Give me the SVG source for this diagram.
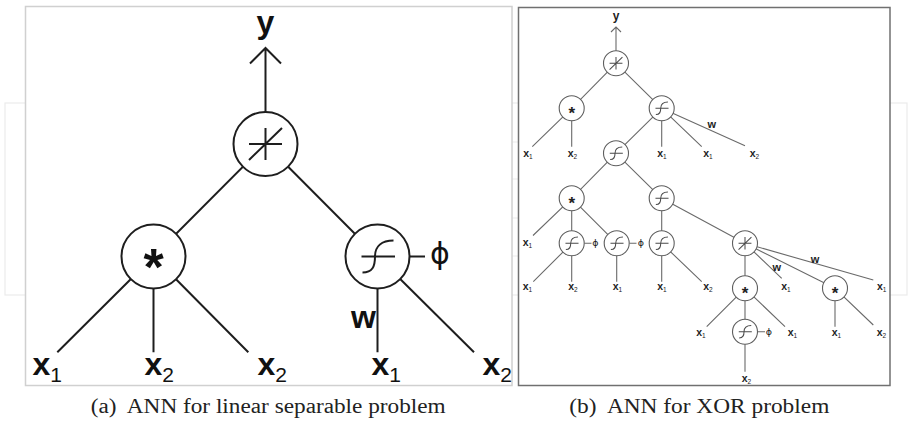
<svg xmlns="http://www.w3.org/2000/svg" xmlns:xlink="http://www.w3.org/1999/xlink" width="908" height="424" viewBox="0 0 908 424">
<defs>
<style>
.bgl{fill:none;stroke:#ebebeb;stroke-width:1.2}
.fa{fill:#fff;stroke:#d0d0d0;stroke-width:1.5}
.fb{fill:#fff;stroke:#707070;stroke-width:1.5}
.ea{stroke:#1e1e1e;stroke-width:2;fill:none}
.na{fill:#fff;stroke:#1e1e1e;stroke-width:2}
.ya{fill:none;stroke:#1e1e1e;stroke-width:2}
.eb{stroke:#6a6a6a;stroke-width:1.1;fill:none}
.nb{fill:#fff;stroke:#5e5e5e;stroke-width:1.1}
.yb{fill:none;stroke:#4a4a4a;stroke-width:2.6}
.la{font-family:"Liberation Sans",Arial,sans-serif;font-weight:bold;font-size:32px;fill:#111}
.sa{font-weight:normal;font-size:21px}
.lb{font-family:"Liberation Sans",Arial,sans-serif;font-weight:bold;font-size:10.5px;fill:#222;text-anchor:middle}
.sb{font-weight:normal;font-size:6.5px}
.wb{font-family:"Liberation Sans",Arial,sans-serif;font-weight:bold;font-size:11px;fill:#222;text-anchor:middle}
.phia{font-family:"DejaVu Sans",sans-serif;font-size:30px;fill:#111;text-anchor:middle}
.phib{font-family:"DejaVu Sans",sans-serif;font-size:9.5px;fill:#222;text-anchor:middle}
.asta{font-family:"Liberation Sans",Arial,sans-serif;font-weight:bold;font-size:52px;fill:#111;text-anchor:middle}
.astb{font-family:"Liberation Sans",Arial,sans-serif;font-weight:bold;font-size:17px;fill:#222;text-anchor:middle}
.cap{font-family:"Liberation Serif","Times New Roman",serif;font-size:20px;fill:#222}
</style>
<path id="sum" d="M-16.5,0H16.5M0,-16V16M-16.5,16L16.5,-16"/>
<path id="sig" d="M-16,0H17.5M-15,16C-5,16 -2.5,10 -2.5,0C-2.5,-10 4,-16 16,-16"/>
</defs>

<g id="background">
<rect class="bgl" x="5" y="103" width="902" height="192"/>
<path class="bgl" d="M512,142H518M512,179H518M512,218H518M512,256H518"/>
</g>

<g id="frames">
<rect class="fa" x="25.5" y="6.5" width="486.5" height="379"/>
<rect class="fb" x="518.5" y="7.5" width="371.5" height="378"/>
</g>

<g id="connectors-a">
<path class="ea" d="M265.5,144V48M250,63.5L265.5,48L281,63.5"/>
<path class="ea" d="M265.5,144L153.5,256.5M265.5,144L377.5,256.5"/>
<path class="ea" d="M153.5,256.5L57.3,352.3M153.5,256.5V352.3M153.5,256.5L248.3,352.3"/>
<path class="ea" d="M377.5,256.5V352.3M377.5,256.5L474,352.3M409.5,256.5H425"/>
</g>

<g id="node-a-sum"><circle class="na" cx="265.5" cy="144" r="32"/><use xlink:href="#sum" x="265.5" y="144" class="ya"/></g>
<g id="node-a-mul"><circle class="na" cx="153.5" cy="256.5" r="32"/><text class="asta" x="153.5" y="285">*</text></g>
<g id="node-a-sig"><circle class="na" cx="377.5" cy="256.5" r="32"/><use xlink:href="#sig" x="377.5" y="256.5" class="ya"/></g>

<g id="labels-a">
<text class="la" x="265.5" y="33" text-anchor="middle">y</text>
<text class="la" x="376" y="328" text-anchor="end">w</text>
<text class="phia" x="440" y="264">ϕ</text>
<text class="la" x="32.5" y="375">x<tspan class="sa" dy="6.5">1</tspan></text>
<text class="la" x="144.5" y="375">x<tspan class="sa" dy="6.5">2</tspan></text>
<text class="la" x="257.5" y="375">x<tspan class="sa" dy="6.5">2</tspan></text>
<text class="la" x="371.5" y="375">x<tspan class="sa" dy="6.5">1</tspan></text>
<text class="la" x="482.5" y="375">x<tspan class="sa" dy="6.5">2</tspan></text>
</g>

<g id="connectors-b">
<path class="eb" d="M616,63.3V27M611,32L616,27L621,32"/>
<path class="eb" d="M616,63.3L571.7,108.3M616,63.3L661.7,108.3"/>
<path class="eb" d="M571.7,108.3L532.3,146.7M571.7,108.3V146.7"/>
<path class="eb" d="M661.7,108.3L616,153.3M661.7,108.3V146.7M661.7,108.3L701.7,146.7M661.7,108.3L745,145.7"/>
<path class="eb" d="M616,153.3L571.7,198.3M616,153.3L661.7,198.3"/>
<path class="eb" d="M571.7,198.3L533,235.5M571.7,198.3V243.3M571.7,198.3L616.7,243.3"/>
<path class="eb" d="M661.7,198.3V243.3M661.7,198.3L745,243.3"/>
<path class="eb" d="M571.7,243.3L533.3,281.7M571.7,243.3V281.7M584.2,243.3H591.5"/>
<path class="eb" d="M616.7,243.3V281.7M629.2,243.3H636.5"/>
<path class="eb" d="M661.7,243.3V281.7M661.7,243.3L701.7,281.7"/>
<path class="eb" d="M745,243.3V288.3M745,243.3L781.7,278.3M745,243.3L835,288.3M745,243.3L873.3,280"/>
<path class="eb" d="M745,288.3L706.7,326.7M745,288.3V331.7M745,288.3L785,326.7"/>
<path class="eb" d="M745,331.7V371.7M757.5,331.7H765"/>
<path class="eb" d="M835,288.3V326.7M835,288.3L873.3,325"/>
</g>

<g id="node-b-sum1"><circle class="nb" cx="616" cy="63.3" r="12.5"/><use xlink:href="#sum" transform="translate(616,63.3) scale(0.39)" class="yb"/></g>
<g id="node-b-mul1"><circle class="nb" cx="571.7" cy="108.3" r="12.5"/><text class="astb" x="571.7" y="118.6">*</text></g>
<g id="node-b-sig1"><circle class="nb" cx="661.7" cy="108.3" r="12.5"/><use xlink:href="#sig" transform="translate(661.7,108.3) scale(0.39)" class="yb"/></g>
<g id="node-b-sig2"><circle class="nb" cx="616" cy="153.3" r="12.5"/><use xlink:href="#sig" transform="translate(616,153.3) scale(0.39)" class="yb"/></g>
<g id="node-b-mul2"><circle class="nb" cx="571.7" cy="198.3" r="12.5"/><text class="astb" x="571.7" y="208.6">*</text></g>
<g id="node-b-sig3"><circle class="nb" cx="661.7" cy="198.3" r="12.5"/><use xlink:href="#sig" transform="translate(661.7,198.3) scale(0.39)" class="yb"/></g>
<g id="node-b-sig4"><circle class="nb" cx="571.7" cy="243.3" r="12.5"/><use xlink:href="#sig" transform="translate(571.7,243.3) scale(0.39)" class="yb"/></g>
<g id="node-b-sig5"><circle class="nb" cx="616.7" cy="243.3" r="12.5"/><use xlink:href="#sig" transform="translate(616.7,243.3) scale(0.39)" class="yb"/></g>
<g id="node-b-sig6"><circle class="nb" cx="661.7" cy="243.3" r="12.5"/><use xlink:href="#sig" transform="translate(661.7,243.3) scale(0.39)" class="yb"/></g>
<g id="node-b-sum2"><circle class="nb" cx="745" cy="243.3" r="12.5"/><use xlink:href="#sum" transform="translate(745,243.3) scale(0.39)" class="yb"/></g>
<g id="node-b-mul3"><circle class="nb" cx="745" cy="288.3" r="12.5"/><text class="astb" x="745" y="298.6">*</text></g>
<g id="node-b-mul4"><circle class="nb" cx="835" cy="288.3" r="12.5"/><text class="astb" x="835" y="298.6">*</text></g>
<g id="node-b-sig7"><circle class="nb" cx="745" cy="331.7" r="12.5"/><use xlink:href="#sig" transform="translate(745,331.7) scale(0.39)" class="yb"/></g>

<g id="labels-b">
<text class="lb" x="616" y="19.5" style="font-size:12px">y</text>
<text class="lb" x="528" y="157">x<tspan class="sb" dy="2">1</tspan></text>
<text class="lb" x="572.5" y="157">x<tspan class="sb" dy="2">2</tspan></text>
<text class="lb" x="662" y="157">x<tspan class="sb" dy="2">1</tspan></text>
<text class="lb" x="708" y="157">x<tspan class="sb" dy="2">1</tspan></text>
<text class="lb" x="754.5" y="157">x<tspan class="sb" dy="2">2</tspan></text>
<text class="wb" x="711.7" y="128">w</text>
<text class="lb" x="527.5" y="245.5">x<tspan class="sb" dy="2">1</tspan></text>
<text class="phib" x="595.5" y="246">ϕ</text>
<text class="phib" x="641" y="246">ϕ</text>
<text class="lb" x="527.5" y="290">x<tspan class="sb" dy="2">1</tspan></text>
<text class="lb" x="573" y="290">x<tspan class="sb" dy="2">2</tspan></text>
<text class="lb" x="617.5" y="290">x<tspan class="sb" dy="2">1</tspan></text>
<text class="lb" x="662" y="290">x<tspan class="sb" dy="2">1</tspan></text>
<text class="lb" x="708" y="290">x<tspan class="sb" dy="2">2</tspan></text>
<text class="wb" x="776.7" y="271">w</text>
<text class="lb" x="786" y="290">x<tspan class="sb" dy="2">1</tspan></text>
<text class="wb" x="815" y="262.5">w</text>
<text class="lb" x="881.7" y="290">x<tspan class="sb" dy="2">1</tspan></text>
<text class="lb" x="701" y="336">x<tspan class="sb" dy="2">1</tspan></text>
<text class="lb" x="792.5" y="336">x<tspan class="sb" dy="2">1</tspan></text>
<text class="phib" x="769" y="334.5">ϕ</text>
<text class="lb" x="836.5" y="336">x<tspan class="sb" dy="2">1</tspan></text>
<text class="lb" x="881.5" y="336">x<tspan class="sb" dy="2">2</tspan></text>
<text class="lb" x="746.5" y="382">x<tspan class="sb" dy="2">2</tspan></text>
</g>

<g id="captions">
<text class="cap" x="90.7" y="413" textLength="355" lengthAdjust="spacingAndGlyphs" xml:space="preserve">(a)  ANN for linear separable problem</text>
<text class="cap" x="569.3" y="413" textLength="260" lengthAdjust="spacingAndGlyphs" xml:space="preserve">(b)  ANN for XOR problem</text>
</g>
</svg>
